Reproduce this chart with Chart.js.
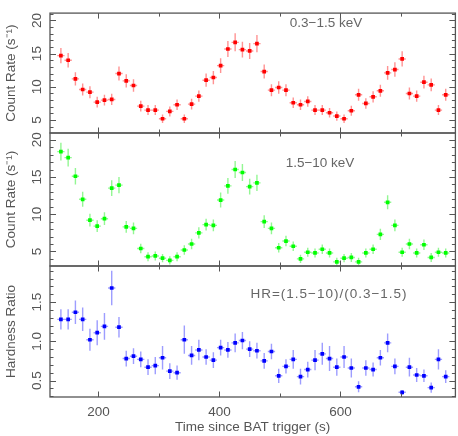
<!DOCTYPE html>
<html>
<head>
<meta charset="utf-8">
<script src="https://cdn.jsdelivr.net/npm/chart.js@4.4.1/dist/chart.umd.min.js"></script>
<style>
  body { margin: 0; background: #fff; }
  #wrap { position: relative; width: 458px; height: 436px; }
  #wrap canvas { position: absolute; left: 0; top: 0; }
</style>
</head>
<body>
<div id="wrap">
  <canvas id="soft" width="458" height="436"></canvas>
  <canvas id="hard" width="458" height="436"></canvas>
  <canvas id="ratio" width="458" height="436"></canvas>
</div>
<script>
// bin centres (s since BAT trigger), 12 s bins
const times = [138, 150, 162, 174, 186, 198, 210, 222, 234, 246, 258, 270, 282, 294, 306, 318, 330, 342,
  354, 366, 378, 390, 402, 414, 426, 438, 450, 462, 474, 486, 498, 510, 522, 534, 546, 558,
  570, 582, 594, 606, 618, 630, 642, 654, 666, 678, 690, 702, 714, 726, 738, 750, 762, 774];
const binHalf = 6;

// 0.3-1.5 keV
const softRate = [14.7, 14.0, 11.2, 9.6, 9.2, 7.7, 8.0, 8.1, 12.0, 10.9, 10.2, 7.1, 6.5, 6.5, 5.2, 6.3, 7.3, 5.2,
  7.4, 8.6, 11.0, 11.4, 13.2, 15.7, 16.7, 15.6, 15.4, 16.5, 12.3, 9.5, 9.9, 9.5, 7.6, 7.3, 7.8, 6.5,
  6.5, 6.1, 5.6, 5.2, 6.4, 8.8, 7.5, 8.5, 9.4, 12.1, 12.6, 14.2, 9.0, 8.6, 10.7, 10.3, 6.5, 8.8];
const softErr = [1.15, 1.1, 1.0, 0.9, 0.9, 0.8, 0.8, 0.85, 1.05, 1.0, 0.95, 0.8, 0.75, 0.75, 0.65, 0.75, 0.8, 0.65,
  0.8, 0.85, 1.0, 1.0, 1.1, 1.2, 1.35, 1.2, 1.2, 1.3, 1.05, 0.9, 0.95, 0.9, 0.8, 0.8, 0.8, 0.75,
  0.75, 0.7, 0.7, 0.65, 0.75, 0.9, 0.8, 0.85, 0.9, 1.05, 1.1, 1.15, 0.9, 0.85, 0.95, 0.95, 0.75, 0.9];

// 1.5-10 keV
const hardRate = [18.4, 17.6, 15.1, 12.0, 9.2, 8.4, 9.4, 13.5, 13.9, 8.3, 8.1, 5.4, 4.3, 4.4, 4.1, 3.8, 4.3, 5.2,
  6.0, 7.5, 8.6, 8.5, 11.9, 13.8, 16.0, 15.6, 13.7, 14.2, 9.0, 8.1, 5.5, 6.4, 5.7, 4.0, 4.9, 4.8,
  5.3, 4.8, 3.6, 4.1, 4.2, 3.6, 4.8, 5.3, 7.3, 11.6, 8.5, 4.9, 6.0, 4.8, 5.9, 4.2, 4.9, 4.8];
const hardErr = [1.2, 1.2, 1.1, 1.0, 0.85, 0.8, 0.85, 1.05, 1.1, 0.8, 0.8, 0.65, 0.6, 0.6, 0.55, 0.55, 0.6, 0.65,
  0.7, 0.75, 0.8, 0.8, 1.0, 1.05, 1.15, 1.15, 1.05, 1.1, 0.85, 0.8, 0.65, 0.7, 0.65, 0.55, 0.6, 0.6,
  0.65, 0.6, 0.55, 0.55, 0.6, 0.55, 0.6, 0.65, 0.75, 0.95, 0.8, 0.6, 0.7, 0.6, 0.7, 0.6, 0.6, 0.6];

// HR = (1.5-10)/(0.3-1.5)
const ratio = [1.28, 1.28, 1.37, 1.28, 1.02, 1.11, 1.19, 1.68, 1.18, 0.78, 0.81, 0.77, 0.67, 0.69, 0.79, 0.62, 0.60, 1.02,
  0.82, 0.89, 0.80, 0.76, 0.92, 0.89, 0.98, 1.01, 0.90, 0.88, 0.75, 0.87, 0.56, 0.68, 0.77, 0.55, 0.64, 0.76,
  0.84, 0.78, 0.67, 0.80, 0.66, 0.42, 0.66, 0.64, 0.79, 0.98, 0.68, 0.35, 0.67, 0.57, 0.56, 0.41, 0.77, 0.55];
const ratioErr = [0.13, 0.13, 0.15, 0.15, 0.14, 0.16, 0.17, 0.22, 0.13, 0.1, 0.1, 0.1, 0.1, 0.11, 0.15, 0.1, 0.09, 0.18,
  0.12, 0.13, 0.1, 0.1, 0.1, 0.1, 0.12, 0.11, 0.1, 0.1, 0.1, 0.1, 0.09, 0.09, 0.12, 0.1, 0.1, 0.13,
  0.14, 0.16, 0.11, 0.14, 0.12, 0.07, 0.1, 0.09, 0.1, 0.12, 0.1, 0.03, 0.12, 0.09, 0.08, 0.065, 0.13, 0.08];

const xLabelTicks = [200, 400, 600];
const rateTicks = [5, 10, 15, 20];
const ratioTicks = [0.5, 1, 1.5];

const FONT = "'Liberation Sans', Arial, sans-serif";
const INK = '#555';

// frame + inward ticks on all four sides, error bars, panel label
const panelPlugin = {
  id: 'panel',
  beforeDatasetsDraw(chart) {
    const ctx = chart.ctx, xs = chart.scales.x, ys = chart.scales.y;
    const o = chart.options.plugins.panel;
    const ds = chart.data.datasets[0];
    ctx.save();
    ctx.strokeStyle = o.errColor;
    ctx.lineWidth = 1.4;
    ds.data.forEach((p, i) => {
      const e = o.err[i];
      const px = xs.getPixelForValue(p.x), py = ys.getPixelForValue(p.y);
      ctx.beginPath();
      ctx.moveTo(px, ys.getPixelForValue(p.y - e));
      ctx.lineTo(px, ys.getPixelForValue(p.y + e));
      ctx.moveTo(xs.getPixelForValue(p.x - binHalf), py);
      ctx.lineTo(xs.getPixelForValue(p.x + binHalf), py);
      ctx.stroke();
    });
    ctx.restore();
  },
  afterDraw(chart) {
    const ctx = chart.ctx, a = chart.chartArea, xs = chart.scales.x, ys = chart.scales.y;
    const o = chart.options.plugins.panel;
    ctx.save();
    ctx.strokeStyle = INK;
    ctx.lineWidth = 1.3;
    ctx.strokeRect(a.left, a.top, a.right - a.left, a.bottom - a.top);
    ctx.lineWidth = 1;
    ctx.beginPath();
    for (let v = 200; v <= 700; v += 100) {
      const px = Math.round(xs.getPixelForValue(v)) + 0.5;
      const len = v % 200 === 0 ? 5.5 : 3.5;
      ctx.moveTo(px, a.bottom); ctx.lineTo(px, a.bottom - len);
      ctx.moveTo(px, a.top); ctx.lineTo(px, a.top + len);
    }
    const start = Math.ceil(ys.min / o.minor - 1e-6);
    for (let k = start; k * o.minor <= ys.max + 1e-6; k++) {
      const v = k * o.minor;
      const py = Math.round(ys.getPixelForValue(v)) + 0.5;
      const major = Math.abs(v / o.major - Math.round(v / o.major)) < 1e-6;
      const len = major ? 6 : 3.5;
      ctx.moveTo(a.left, py); ctx.lineTo(a.left + len, py);
      ctx.moveTo(a.right, py); ctx.lineTo(a.right - len, py);
    }
    ctx.stroke();
    ctx.fillStyle = '#666';
    ctx.font = '13.5px ' + FONT;
    ctx.textAlign = 'center';
    ctx.textBaseline = 'middle';
    ctx.letterSpacing = o.spacing || '0px';
    ctx.fillText(o.label, o.labelX, o.labelY);
    ctx.restore();
  }
};

function makePanel(id, rate, err, color, errColor, yMin, yMax, top, bottom, opts) {
  const isBottom = !!opts.bottomAxis;
  const xScale = {
    type: 'linear',
    min: 120, max: 790,
    display: isBottom,
    grid: { display: false, drawTicks: false },
    border: { display: false },
    afterBuildTicks: (s) => { s.ticks = xLabelTicks.map(v => ({ value: v })); },
    ticks: { color: INK, font: { family: FONT, size: 13.5 }, padding: 7, autoSkip: false, maxRotation: 0 },
    title: { display: true, text: 'Time since BAT trigger (s)', color: INK, font: { family: FONT, size: 13.5 }, padding: { top: 0, bottom: 1 } }
  };
  if (isBottom) xScale.afterFit = (s) => { s.height = 436 - bottom; };
  return new Chart(document.getElementById(id), {
    type: 'scatter',
    data: {
      datasets: [{
        data: times.map((t, i) => ({ x: t, y: rate[i] })),
        backgroundColor: color,
        borderColor: color,
        borderWidth: 0,
        pointStyle: 'rect',
        pointRadius: 2.6,
        pointHoverRadius: 2.6
      }]
    },
    options: {
      responsive: false,
      animation: false,
      events: [],
      layout: { padding: { left: 2, right: 1, top: top, bottom: isBottom ? 0 : 436 - bottom } },
      scales: {
        x: xScale,
        y: {
          type: 'linear',
          min: yMin, max: yMax,
          grid: { display: false, drawTicks: false },
          border: { display: false },
          afterBuildTicks: (s) => { s.ticks = opts.ticks.map(v => ({ value: v })); },
          afterFit: (s) => { s.width = 48; },
          ticks: {
            color: INK, font: { family: FONT, size: 13.5 }, minRotation: 90, maxRotation: 90,
            crossAlign: 'center', padding: opts.tickPad, autoSkip: false
          },
          title: { display: true, text: opts.title, color: INK, font: { family: FONT, size: 13.5 }, padding: { top: 1, bottom: 0 } }
        }
      },
      plugins: {
        legend: { display: false },
        tooltip: { enabled: false },
        panel: { err: err, errColor: errColor, major: opts.major, minor: opts.minor, label: opts.label,
          labelX: opts.labelX, labelY: opts.labelY, spacing: opts.spacing }
      }
    },
    plugins: [panelPlugin]
  });
}

makePanel('soft', softRate, softErr, '#ff0000', 'rgba(255,40,40,0.5)', 3.05, 21.1, 0, 133,
  { ticks: rateTicks, major: 5, minor: 1, tickPad: 5, title: 'Count Rate (s\u207B\u00B9)', label: '0.3\u22121.5 keV', labelX: 326, labelY: 23 });
makePanel('hard', hardRate, hardErr, '#00ff00', 'rgba(40,240,40,0.5)', 3.05, 20.9, 133, 266,
  { ticks: rateTicks, major: 5, minor: 1, tickPad: 5, title: 'Count Rate (s\u207B\u00B9)', label: '1.5\u221210 keV', labelX: 320, labelY: 163 });
makePanel('ratio', ratio, ratioErr, '#0000ff', 'rgba(60,60,255,0.5)', 0.29, 1.96, 266, 397,
  { ticks: ratioTicks, major: 0.5, minor: 0.1, tickPad: 3, title: 'Hardness Ratio', label: 'HR=(1.5\u221210)/(0.3\u22121.5)',
    labelX: 329, labelY: 294, spacing: '1px', bottomAxis: true });
</script>
</body>
</html>
